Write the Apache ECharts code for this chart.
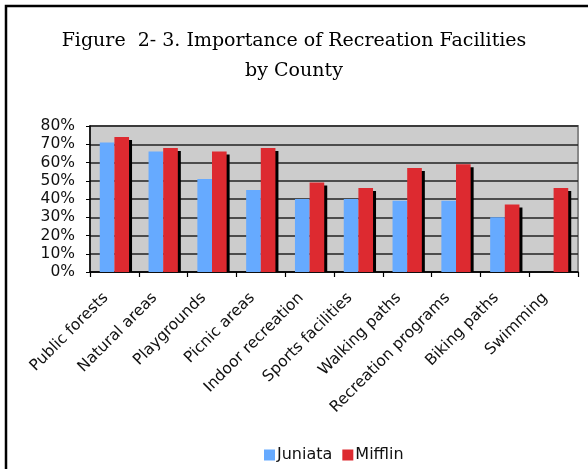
<!DOCTYPE html>
<html>
<head>
<meta charset="utf-8">
<script src="https://cdn.jsdelivr.net/npm/echarts@6/dist/echarts.min.js"></script>
<style>
html,body{margin:0;padding:0;background:#fff;}
#chart{width:588px;height:469px;}
</style>
</head>
<body>
<div id="chart"></div>
<script>
var categories = ['Public forests','Natural areas','Playgrounds','Picnic areas','Indoor recreation','Sports facilities','Walking paths','Recreation programs','Biking paths','Swimming'];
var juniata = [71, 66, 51, 45, 40, 40, 39, 39, 30, null];
var mifflin = [74, 68, 66, 68, 49, 46, 57, 59, 37, 46];
var yTicks = [0, 10, 20, 30, 40, 50, 60, 70, 80];
var titleLines = ['Figure  2- 3. Importance of Recreation Facilities', 'by County'];

var chart = echarts.init(document.getElementById('chart'), null, {renderer:'canvas'});
var font = 'DejaVu Sans';
var gapRatio = 0.4;

function shadowItem(params, api) {
  var idx = api.value(0);
  var top = api.coord([idx, api.value(1)]);
  var base = api.coord([idx, 0]);
  var w = api.size([1, 0])[0] * (1 - gapRatio) / 2;
  return {
    type: 'rect',
    shape: {x: base[0] + 3, y: top[1] + 3, width: w, height: Math.max(0, base[1] - top[1] - 3)},
    style: {fill: '#000'}
  };
}

chart.setOption({
  animation: false,
  backgroundColor: '#fff',
  graphic: [{
    type: 'polyline',
    shape: {points: [[6, 480], [6, 6], [600, 6]]},
    style: {stroke: '#000', lineWidth: 2.5, fill: null}
  }],
  title: {
    text: titleLines.join('\n'),
    left: 'center',
    top: 21,
    textStyle: {fontFamily: 'DejaVu Serif', fontSize: 19, fontWeight: 'normal', color: '#000', lineHeight: 30}
  },
  legend: {
    bottom: 1,
    left: 259,
    itemWidth: 11,
    itemHeight: 11,
    itemGap: 10,
    icon: 'rect',
    textStyle: {fontFamily: font, fontSize: 16, color: '#111', padding: [0,0,0,-3]},
    data: ['Juniata', 'Mifflin']
  },
  grid: {
    left: 90, right: 10, top: 126, bottom: 197,
    show: true,
    backgroundColor: '#cccccc',
    borderColor: '#888888',
    borderWidth: 2
  },
  xAxis: {
    type: 'category',
    data: categories,
    axisLine: {lineStyle: {color: '#000', width: 1.5}},
    axisTick: {show: true, length: 5, lineStyle: {color: '#000', width: 1.2}},
    axisLabel: {rotate: 45, interval: 0, fontFamily: font, fontSize: 15.5, color: '#111', margin: 15, padding: [0, 12, 0, 0]}
  },
  yAxis: {
    type: 'value',
    min: yTicks[0],
    max: yTicks[yTicks.length - 1],
    interval: 10,
    axisLine: {show: true, lineStyle: {color: '#000', width: 1.5}},
    axisTick: {show: true, length: 4, lineStyle: {color: '#000'}},
    axisLabel: {formatter: '{value}%', fontFamily: font, fontSize: 15.5, color: '#111', margin: 15},
    splitLine: {lineStyle: {color: '#222', width: 1.5}}
  },
  series: [{
    name: 'Juniata',
    type: 'bar',
    data: juniata,
    barGap: '0%',
    barCategoryGap: '40%',
    itemStyle: {color: '#66aaff'}
  }, {
    name: 'shadow',
    type: 'custom',
    renderItem: shadowItem,
    encode: {x: 0, y: 1},
    data: mifflin.map(function (v, i) { return [i, v]; }),
    silent: true
  }, {
    name: 'Mifflin',
    type: 'bar',
    data: mifflin,
    barGap: '0%',
    barCategoryGap: '40%',
    itemStyle: {color: '#dd2a30'}
  }]
});
</script>
</body>
</html>
